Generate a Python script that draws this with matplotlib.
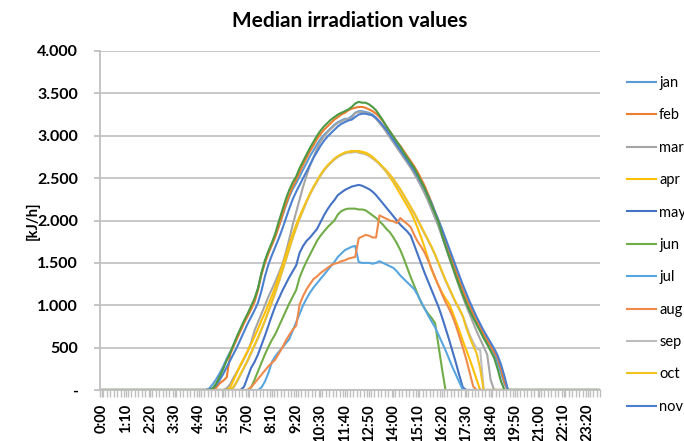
import numpy as np
import matplotlib
matplotlib.use("Agg")
import matplotlib.pyplot as plt
from matplotlib.transforms import Bbox

plt.rcParams['font.family'] = ['Lato', 'DejaVu Sans']

N_SLOTS = 144  # 10-minute slots in a day

months = ['jan', 'feb', 'mar', 'apr', 'may', 'jun', 'jul', 'aug', 'sep', 'oct', 'nov', 'dec']
colors = ['#5B9BD5', '#ED7D31', '#A5A5A5', '#FFC000', '#4472C4', '#70AD47',
          '#58A6DF', '#F08A4B', '#BDBDBD', '#F2C21F', '#4A7FD0', '#4D9A45']

# first non-zero slot of each month (slots before are 0)
start_jan = 31
jan = [20, 70, 130, 200, 280, 370, 450, 530, 620, 710, 800, 880, 960, 1050, 1200, 1380, 1520, 1630,
       1720, 1820, 1930, 2050, 2170, 2280, 2370, 2440, 2520, 2600, 2680, 2760, 2830, 2900, 2960, 3010,
       3050, 3090, 3130, 3160, 3180, 3200, 3200, 3230, 3270, 3290, 3290, 3280, 3270, 3250, 3210, 3160,
       3110, 3050, 2990, 2930, 2870, 2810, 2750, 2690, 2630, 2560, 2490, 2410, 2330, 2240, 2140, 2040,
       1940, 1820, 1700, 1590, 1480, 1370, 1260, 1150, 1050, 960, 870, 790, 710, 640, 570, 500, 430,
       330, 200, 70, 0]

start_feb = 33
feb = [30, 80, 110, 150, 420, 520, 610, 700, 790, 870, 950, 1040, 1180, 1360, 1500, 1610, 1710, 1810,
       1930, 2060, 2190, 2300, 2400, 2480, 2570, 2660, 2740, 2820, 2890, 2960, 3020, 3070, 3110, 3150,
       3190, 3220, 3250, 3270, 3300, 3320, 3330, 3340, 3340, 3330, 3310, 3290, 3260, 3220, 3170, 3110,
       3050, 2990, 2930, 2880, 2820, 2760, 2700, 2640, 2570, 2490, 2410, 2310, 2210, 2100, 2000, 1880,
       1760, 1640, 1520, 1400, 1290, 1180, 1080, 990, 900, 820, 740, 660, 590, 520, 450, 380, 250, 90, 0]

start_mar = 36
mar = [20, 70, 150, 220, 290, 370, 450, 560, 700, 800, 900, 1000, 1100, 1190, 1280, 1380, 1480, 1620,
       1780, 1950, 2100, 2250, 2400, 2530, 2650, 2750, 2850, 2930, 2990, 3040, 3080, 3120, 3150, 3170,
       3190, 3200, 3210, 3270, 3280, 3280, 3270, 3260, 3240, 3200, 3150, 3100, 3040, 2980, 2920, 2860,
       2800, 2740, 2680, 2620, 2550, 2480, 2400, 2320, 2230, 2130, 2030, 1930, 1810, 1690, 1570, 1450,
       1330, 1210, 1100, 990, 890, 790, 690, 600, 510, 420, 120, 0]

start_apr = 37
apr = [30, 120, 210, 300, 380, 460, 540, 630, 720, 820, 910, 1010, 1110, 1220, 1340, 1460, 1590, 1720,
       1840, 1950, 2050, 2140, 2230, 2310, 2390, 2460, 2530, 2590, 2640, 2680, 2720, 2750, 2780, 2800,
       2810, 2820, 2820, 2820, 2810, 2800, 2780, 2750, 2710, 2670, 2620, 2570, 2510, 2450, 2380, 2310,
       2240, 2170, 2100, 2010, 1910, 1800, 1680, 1550, 1420, 1320, 1230, 1150, 1080, 1020, 920, 810, 700,
       580, 470, 360, 240, 120, 0]

start_may = 41
may = [40, 150, 260, 330, 420, 530, 640, 760, 880, 990, 1080, 1170, 1250, 1330, 1400, 1470, 1620, 1700,
       1760, 1800, 1850, 1900, 1980, 2060, 2130, 2190, 2240, 2300, 2330, 2360, 2380, 2400, 2410, 2420,
       2410, 2390, 2370, 2340, 2300, 2250, 2200, 2150, 2100, 2050, 2000, 1950, 1910, 1870, 1820, 1710,
       1600, 1490, 1380, 1280, 1180, 1080, 980, 860, 730, 600, 460, 320, 170, 30, 0]

start_jun = 43
jun = [30, 120, 220, 320, 420, 510, 590, 660, 750, 840, 930, 1020, 1100, 1180, 1330, 1430, 1520, 1600,
       1680, 1760, 1820, 1870, 1920, 1960, 2000, 2070, 2110, 2130, 2140, 2140, 2140, 2130, 2130, 2120,
       2090, 2060, 2030, 1990, 1950, 1900, 1860, 1800, 1730, 1650, 1550, 1440, 1330, 1230, 1130, 1030,
       960, 900, 850, 790, 520, 250, 0]

start_jul = 46
jul = [30, 100, 200, 330, 400, 450, 500, 550, 600, 700, 800, 900, 1000, 1080, 1150, 1210, 1260, 1310,
       1360, 1410, 1460, 1510, 1570, 1610, 1650, 1670, 1690, 1700, 1510, 1500, 1500, 1500, 1490, 1500,
       1520, 1500, 1480, 1460, 1440, 1400, 1350, 1310, 1270, 1230, 1190, 1120, 1040, 960, 880, 810, 740,
       650, 560, 470, 370, 270, 180, 90, 0]

start_aug = 43
aug = [30, 80, 130, 180, 230, 280, 320, 360, 430, 500, 580, 650, 710, 760, 1010, 1110, 1190, 1250, 1310,
       1340, 1380, 1410, 1440, 1470, 1490, 1500, 1520, 1530, 1550, 1560, 1570, 1790, 1810, 1830, 1820,
       1800, 1800, 2060, 2040, 2020, 2000, 1990, 1970, 2030, 1990, 1960, 1920, 1830, 1750, 1690, 1620,
       1530, 1430, 1330, 1230, 1130, 1040, 960, 870, 760, 630, 500, 360, 200, 40, 0]

start_sep = 38
sep = [30, 100, 180, 260, 340, 430, 520, 610, 710, 810, 920, 1030, 1150, 1270, 1400, 1530, 1660, 1790,
       1910, 2020, 2120, 2220, 2310, 2390, 2460, 2530, 2590, 2640, 2680, 2720, 2750, 2770, 2790, 2800,
       2800, 2810, 2800, 2790, 2780, 2760, 2730, 2700, 2660, 2620, 2580, 2530, 2480, 2420, 2360, 2290,
       2220, 2150, 2080, 2000, 1920, 1840, 1760, 1680, 1590, 1490, 1390, 1290, 1200, 1110, 1020, 950,
       870, 760, 650, 560, 490, 470, 0]

start_oct = 38
oct_ = [40, 110, 190, 270, 350, 440, 530, 620, 720, 820, 930, 1040, 1160, 1280, 1410, 1540, 1670, 1800,
        1920, 2030, 2130, 2230, 2320, 2400, 2470, 2540, 2600, 2650, 2690, 2730, 2760, 2780, 2800, 2810,
        2810, 2820, 2810, 2800, 2790, 2770, 2740, 2710, 2670, 2630, 2590, 2540, 2490, 2430, 2370, 2300,
        2230, 2160, 2090, 2010, 1930, 1850, 1770, 1690, 1600, 1500, 1400, 1300, 1210, 1120, 1030, 960,
        870, 730, 620, 520, 430, 250, 0]

start_nov = 32
nov = [20, 60, 120, 190, 270, 350, 430, 510, 600, 690, 780, 860, 940, 1030, 1170, 1340, 1480, 1590,
       1690, 1790, 1900, 2020, 2140, 2250, 2340, 2420, 2500, 2580, 2660, 2740, 2810, 2880, 2940, 2990,
       3030, 3070, 3110, 3140, 3160, 3180, 3190, 3220, 3250, 3260, 3260, 3250, 3240, 3210, 3170, 3120,
       3070, 3010, 2950, 2890, 2830, 2770, 2710, 2650, 2590, 2520, 2450, 2370, 2290, 2200, 2100, 2000,
       1900, 1790, 1680, 1570, 1460, 1350, 1240, 1140, 1040, 950, 860, 780, 700, 630, 560, 490, 410, 300,
       160, 0]

start_dec = 32
dec = [20, 80, 160, 250, 350, 440, 540, 640, 730, 820, 900, 990, 1080, 1200, 1380, 1530, 1640, 1740,
       1850, 1990, 2120, 2250, 2360, 2450, 2520, 2620, 2700, 2780, 2860, 2930, 3000, 3060, 3110, 3150,
       3190, 3220, 3250, 3270, 3290, 3310, 3340, 3380, 3400, 3390, 3390, 3370, 3340, 3300, 3240, 3180,
       3110, 3050, 2990, 2930, 2870, 2800, 2740, 2680, 2620, 2540, 2460, 2380, 2280, 2180, 2080, 1980,
       1830, 1700, 1580, 1460, 1340, 1230, 1120, 1020, 930, 850, 770, 690, 610, 540, 460, 380, 250, 100, 0]

series = [(start_jan, jan), (start_feb, feb), (start_mar, mar), (start_apr, apr), (start_may, may),
          (start_jun, jun), (start_jul, jul), (start_aug, aug), (start_sep, sep), (start_oct, oct_),
          (start_nov, nov), (start_dec, dec)]

x_tick_labels = ['0:00', '1:10', '2:20', '3:30', '4:40', '5:50', '7:00', '8:10', '9:20', '10:30',
                 '11:40', '12:50', '14:00', '15:10', '16:20', '17:30', '18:40', '19:50', '21:00',
                 '22:10', '23:20']
y_ticks = [0, 500, 1000, 1500, 2000, 2500, 3000, 3500, 4000]
y_tick_labels = ['-', '500', '1.000', '1.500', '2.000', '2.500', '3.000', '3.500', '4.000']


def full_day(start, vals):
    arr = np.zeros(N_SLOTS)
    arr[start:start + len(vals)] = vals
    return arr


W, H = 684, 441
fig = plt.figure(figsize=(W / 100, H / 100), dpi=100)
ax = fig.add_axes([100 / W, 1 - 390 / H, 500 / W, 339 / H])

x = np.arange(N_SLOTS)
for name, col, (st, vals) in zip(months, colors, series):
    ax.plot(x, full_day(st, vals), color=col, lw=1.5, label=name, solid_joinstyle='round')

ax.set_xlim(-0.5, N_SLOTS - 0.5)
ax.set_ylim(0, 4000)
ax.set_yticks(y_ticks)
ax.set_yticklabels(y_tick_labels, fontsize=11.5, fontweight='bold')
ax.set_xticks(np.arange(0, N_SLOTS, 7))
ax.set_xticklabels(x_tick_labels, rotation=90, fontsize=10.5, fontweight='bold', va='top')
ax.set_xticks(np.arange(-0.5, N_SLOTS, 1), minor=True)
ax.tick_params(axis='x', which='both', length=5, color='#BFBFBF', width=1, pad=5)
ax.tick_params(axis='y', length=4, color='#BFBFBF', width=1.3, pad=12)
ax.yaxis.grid(True, color='#C8C8C8', lw=1.4)
ax.set_axisbelow(True)
for s in ['top', 'right']:
    ax.spines[s].set_visible(False)
ax.spines['left'].set_color('#BFBFBF')
ax.spines['left'].set_linewidth(1.3)
ax.spines['bottom'].set_color('#BFBFBF')
ax.spines['bottom'].set_linewidth(1.3)

ax.set_title('Median irradiation values', fontsize=15, fontweight='bold', pad=17)
ax.set_ylabel('[kJ/h]', fontsize=10.5, fontweight='bold', va='center')
ax.yaxis.set_label_coords((33 - 100) / 500, 0.5)

leg = fig.legend(loc='upper left', bbox_to_anchor=(627 / W, 1 - 76 / H), frameon=False,
                 fontsize=10.5, handlelength=2.0, handletextpad=0.2, labelspacing=1.26,
                 borderpad=0, borderaxespad=0)

# the chart area cuts the legend off at the bottom, as in the reference
fig.canvas.draw()
clip = Bbox.from_extents(600, 14, W, H)
for artist in list(leg.get_texts()) + list(leg.get_lines()):
    artist.set_clip_box(clip)
    artist.set_clip_on(True)

fig.savefig('out.png', dpi=100)
